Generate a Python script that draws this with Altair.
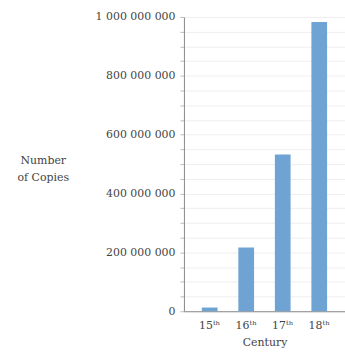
import altair as alt
import pandas as pd

centuries = ["15ᵗʰ", "16ᵗʰ", "17ᵗʰ", "18ᵗʰ"]
copies = [12600000, 217000000, 533000000, 983000000]
grid_values = list(range(0, 1000000001, 50000000))

df = pd.DataFrame({"century": centuries, "copies": copies})

FONT = "DejaVu Serif"

chart = alt.Chart(df).mark_bar(color="#6fa3d3").encode(
    x=alt.X(
        "century:N",
        sort=centuries,
        scale=alt.Scale(paddingInner=0.57, paddingOuter=0.49),
        axis=alt.Axis(
            title="Century",
            labelAngle=0,
            ticks=False,
            labelPadding=8,
            labelFont=FONT,
            labelFontSize=11,
            labelColor="#444",
            titleFont=FONT,
            titleFontSize=11,
            titleFontWeight="normal",
            titleColor="#444",
            titlePadding=6,
            domainColor="#888",
            grid=False,
        ),
    ),
    y=alt.Y(
        "copies:Q",
        scale=alt.Scale(domain=[0, 1000000000], nice=False),
        axis=alt.Axis(
            title=["Number", "of Copies"],
            titleAngle=0,
            titleAlign="center",
            titleBaseline="middle",
            titleX=-142,
            titleY=144,
            titleFont=FONT,
            titleFontSize=11,
            titleFontWeight="normal",
            titleColor="#444",
            titleLineHeight=18,
            values=grid_values,
            labelExpr="datum.value % 200000000 == 0 ? replace(format(datum.value, ','), regexp(',', 'g'), ' ') : ''",
            labelFont=FONT,
            labelFontSize=11,
            labelColor="#444",
            labelPadding=5,
            tickSize=4,
            tickColor="#bbb",
            domainColor="#888",
            gridColor="#eeeeee",
            labelOverlap=False,
        ),
    ),
).properties(
    width=162,
    height=296,
    autosize=alt.AutoSizeParams(type="none"),
    padding={"left": 185, "top": 16, "right": 0, "bottom": 50},
).configure_view(stroke=None)

chart.save("out.html", embed_options={"renderer": "svg", "actions": False})
